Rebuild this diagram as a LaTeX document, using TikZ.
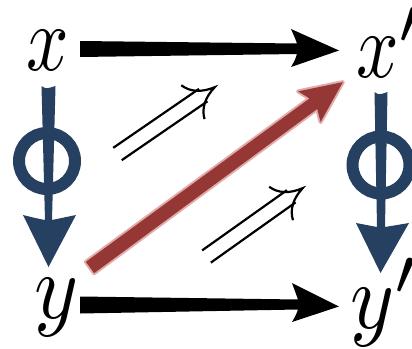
\documentclass[tikz,border=0pt]{standalone}
\usepackage{graphicx}
\definecolor{phiblue}{RGB}{37,64,97}
\definecolor{arrred}{RGB}{149,55,53}
\definecolor{glowred}{RGB}{218,150,148}
\begin{document}
\begin{tikzpicture}[x=1pt,y=-1pt,
  lbl/.style={inner sep=0pt},
  blk/.style={fill=black},
  phifill/.style={fill=phiblue},
  ring/.style={draw=phiblue, line width=12pt},
  twocell/.style={line width=2.2pt, draw=black}]
\useasboundingbox (0,0) rectangle (412,348);
\fill[white] (0,0) rectangle (412,348);
% labels
\node[lbl, anchor=base west] (x) at (26,70) {\scalebox{9.3}{$\scalebox{0.8}[1]{$x$}$}};
\node[lbl, anchor=base west] (xp) at (356,77) {\scalebox{9.3}{$\scalebox{0.8}[1]{$x$}'$}};
\node[lbl, anchor=base west] (y) at (34,318) {\scalebox{9.3}{$\scalebox{0.9}[1]{$y$}$}};
\node[lbl, anchor=base west] (yp) at (350,328) {\scalebox{9.3}{$\scalebox{0.9}[1]{$y$}'$}};
% black arrows
\fill[blk] (80,41) -- (297,43.5) .. controls (295,38) .. (291,29) -- (339,50.5)
  -- (291,67) .. controls (295,60) .. (297,54) -- (80,57) -- cycle;
\fill[blk] (80,296.5) -- (298,299.5) .. controls (296,294) .. (292,283) -- (339,306.5)
  -- (292,322) .. controls (296,315) .. (298,309.5) -- (80,313.5) -- cycle;
% blue Phi arrows
\draw[ring] (47,161) circle[radius=28];
\fill[phifill] (41.5,86) .. controls (46,89) .. (55.5,86) -- (52,220)
  .. controls (64,218) .. (76,215) -- (48.5,267) -- (23,215)
  .. controls (35,218) .. (45,220) -- cycle;
\draw[ring] (381,165) circle[radius=28.5];
\fill[phifill] (374.5,92) .. controls (379,95) .. (387.5,92) -- (385,227)
  .. controls (397,225) .. (409,223) -- (380.5,273) -- (356,223)
  .. controls (367,225) .. (377,227) -- cycle;
% red diagonal arrow
\begin{scope}[shift={(90,267.5)}, rotate=36.25]
  \draw[glowred, line width=4pt, line join=round, opacity=0.8]
    (0,-7) -- (277,-6.5) .. controls (275,-12) .. (272,-19) -- (313.5,0)
    -- (272,19) .. controls (275,12) .. (277,6.5) -- (0,7) -- cycle;
  \fill[arrred]
    (0,-7) -- (277,-6.5) .. controls (275,-12) .. (272,-19) -- (313.5,0)
    -- (272,19) .. controls (275,12) .. (277,6.5) -- (0,7) -- cycle;
\end{scope}
% double arrows (2-cells)
\begin{scope}[shift={(117.5,154)}, rotate=34.5]
  \draw[twocell] (0,-7.5) -- (104,-7.5);
  \draw[twocell] (0,7.5) -- (104,7.5);
  \draw[twocell] (91.5,-20.5) .. controls (95,-10) and (104,-3) .. (118,0)
    .. controls (104,3) and (95,10) .. (91.5,20.5);
\end{scope}
\begin{scope}[shift={(206.5,256.5)}, rotate=35.4]
  \draw[twocell] (0,-7.5) -- (104,-7.5);
  \draw[twocell] (0,7.5) -- (104,7.5);
  \draw[twocell] (91.5,-20.5) .. controls (95,-10) and (104,-3) .. (118,0)
    .. controls (104,3) and (95,10) .. (91.5,20.5);
\end{scope}
\end{tikzpicture}
\end{document}
